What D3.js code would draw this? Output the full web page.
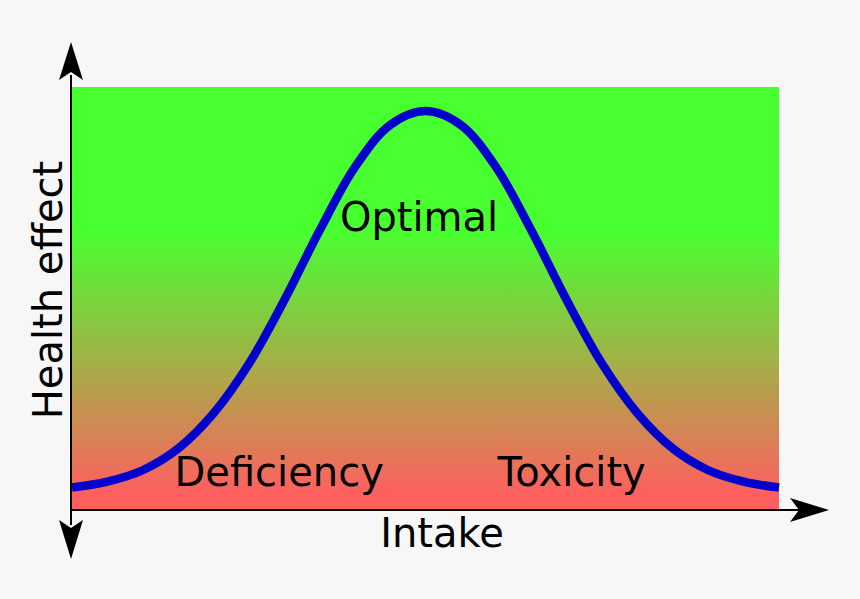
<!DOCTYPE html>
<html><head><meta charset="utf-8">
<script src="https://cdn.jsdelivr.net/npm/d3@7"></script>
<style>html,body{margin:0;padding:0;background:#f7f7f7;}svg{display:block;}</style>
</head><body>
<script>
// Data
const intake = [0,5,10,15,20,25,30,35,40,45,50,55,60,65,70,75,80,85,90,95,100];
const health = [5.3,6.7,9.4,14.5,22.8,34.5,49.5,66.0,81.0,91.0,94.3,91.0,81.0,66.0,49.5,34.5,22.8,14.5,9.4,6.7,5.3];
const zoneLabels = ["Deficiency","Optimal","Toxicity"];
const zoneX = [14.5, 37.9, 60.2];
const zoneY = [5.7, 66, 5.7];
const axisTitles = ["Intake","Health effect"];

const W = 860, H = 599;
const svg = d3.select("body").append("svg").attr("width",W).attr("height",H);
svg.append("rect").attr("width",W).attr("height",H).attr("fill","#f7f7f7");

const x = d3.scaleLinear().domain([0,100]).range([72,779]);
const y = d3.scaleLinear().domain([0,100]).range([510,87]);

const defs = svg.append("defs");
const grad = defs.append("linearGradient").attr("id","bg").attr("x1",0).attr("y1",0).attr("x2",0).attr("y2",1);
grad.append("stop").attr("offset",0.34).attr("stop-color","#48ff30");
grad.append("stop").attr("offset",0.965).attr("stop-color","#ff5f5f");

svg.append("rect").attr("x",x(0)).attr("y",y(100)).attr("width",x(100)-x(0)).attr("height",y(0)-y(100)).attr("fill","url(#bg)");

const line = d3.line().x((d,i)=>x(intake[i])).y(d=>y(d)).curve(d3.curveCatmullRom);
svg.append("path").datum(health).attr("d",line).attr("fill","none").attr("stroke","#0000cc").attr("stroke-width",8.5);

// axes
const ax = x(0)-1, ay = y(0);
svg.append("line").attr("x1",ax).attr("x2",ax).attr("y1",75).attr("y2",525).attr("stroke","#000").attr("stroke-width",2);
svg.append("line").attr("x1",ax).attr("x2",800).attr("y1",ay).attr("y2",ay).attr("stroke","#000").attr("stroke-width",2);
svg.append("path").attr("d",`M${ax},42 L${ax+12},80 L${ax},72 L${ax-12},80 Z`).attr("fill","#000");
svg.append("path").attr("d",`M${ax},559 L${ax+12},520 L${ax},528 L${ax-12},520 Z`).attr("fill","#000");
svg.append("path").attr("d",`M829,${ay} L790,${ay-12} L799,${ay} L790,${ay+12} Z`).attr("fill","#000");

const font = "'DejaVu Sans', sans-serif";
zoneLabels.forEach((t,i)=>{
  svg.append("text").attr("x",x(zoneX[i])).attr("y",y(zoneY[i])).attr("font-family",font).attr("font-size",40)
    .attr("fill","#000").text(t);
});
svg.append("text").attr("x",442).attr("y",547).attr("text-anchor","middle").attr("font-family",font).attr("font-size",40).text(axisTitles[0]);
svg.append("text").attr("transform","translate(62,290) rotate(-90)").attr("text-anchor","middle").attr("font-family",font).attr("font-size",40).text(axisTitles[1]);
</script>
</body></html>
